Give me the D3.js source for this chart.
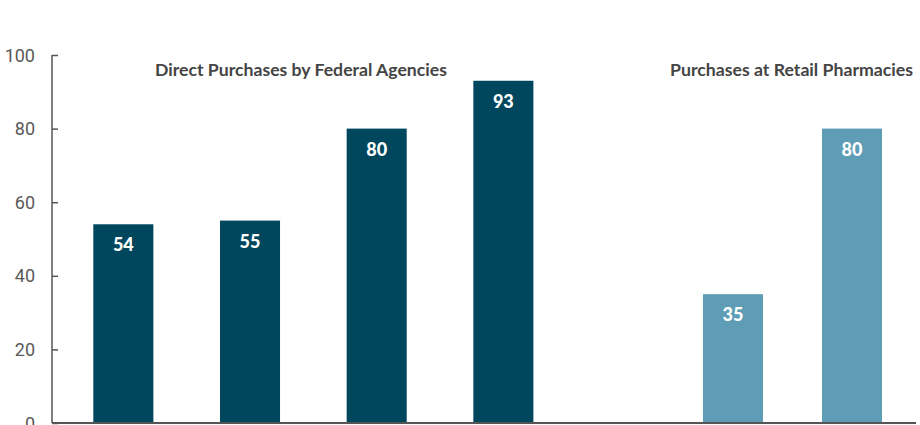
<!DOCTYPE html>
<html><head><meta charset="utf-8">
<script src="https://cdn.jsdelivr.net/npm/d3@7"></script>
<style>body{margin:0;background:#fff}svg{display:block}</style>
</head><body><svg id="c" width="920" height="425"></svg>
<script>
const federalCategories = ["F1","F2","F3","F4"];
const federalValues = [54,55,80,93];
const retailCategories = ["R1","R2"];
const retailValues = [35,80];
const panelTitles = ["Direct Purchases by Federal Agencies","Purchases at Retail Pharmacies"];
const yTicks = [0,20,40,60,80,100];

const svg = d3.select("#c");
const y = d3.scaleLinear().domain([0,100]).range([423,55]);
const xF = d3.scaleBand().domain(federalCategories).range([60,566.7]).paddingInner(0.526).paddingOuter(0.263);
const xR = d3.scaleBand().domain(retailCategories).range([673.5,911.5]).paddingInner(0.496).paddingOuter(0.248);

const dark="#00475d", light="#5e9db5";

function drawBars(x, cats, vals, color){
  const g = svg.append("g");
  const data = cats.map((c,i)=>({c,v:vals[i]}));
  g.selectAll("rect").data(data).join("rect")
    .attr("x",d=>x(d.c)).attr("width",x.bandwidth())
    .attr("y",d=>y(d.v)).attr("height",d=>y(0)-y(d.v)).attr("fill",color);
  g.selectAll("text").data(data).join("text")
    .attr("x",d=>x(d.c)+x.bandwidth()/2).attr("y",d=>y(d.v)+27)
    .attr("text-anchor","middle").attr("fill","#fff")
    .attr("font-family","Lato, 'Open Sans', sans-serif").attr("font-weight","900").attr("font-size",18)
    .text(d=>d.v);
}
drawBars(xF, federalCategories, federalValues, dark);
drawBars(xR, retailCategories, retailValues, light);

// y axis
const yAxis = svg.append("g").attr("transform","translate(52,0)")
  .call(d3.axisRight(y).tickValues(yTicks).tickSize(6).tickFormat(""));
yAxis.select(".domain").attr("stroke","#555").attr("stroke-width",1.5).attr("d","M0,55V423");
yAxis.selectAll(".tick line").attr("stroke","#555").attr("stroke-width",1.5);
svg.append("g").selectAll("text").data(yTicks).join("text")
  .attr("x",35).attr("y",d=>y(d)+6.5).attr("text-anchor","end")
  .attr("fill","#595959").attr("font-family","Roboto, sans-serif").attr("font-size",18)
  .text(d=>d);

// x baseline
svg.append("line").attr("x1",52).attr("x2",916).attr("y1",y(0)).attr("y2",y(0))
  .attr("stroke","#555").attr("stroke-width",2);

// titles
svg.append("text").attr("x",xF(federalCategories[1])-65).attr("y",76)
  .attr("fill","#444").attr("font-family","Lato, sans-serif").attr("font-weight","bold").attr("font-size",17.5)
  .attr("textLength",292).attr("lengthAdjust","spacingAndGlyphs")
  .text(panelTitles[0]);
svg.append("text").attr("x",xR(retailCategories[0])-33).attr("y",76)
  .attr("fill","#444").attr("font-family","Lato, sans-serif").attr("font-weight","bold").attr("font-size",17.5)
  .attr("textLength",243).attr("lengthAdjust","spacingAndGlyphs")
  .text(panelTitles[1]);
</script></body></html>
